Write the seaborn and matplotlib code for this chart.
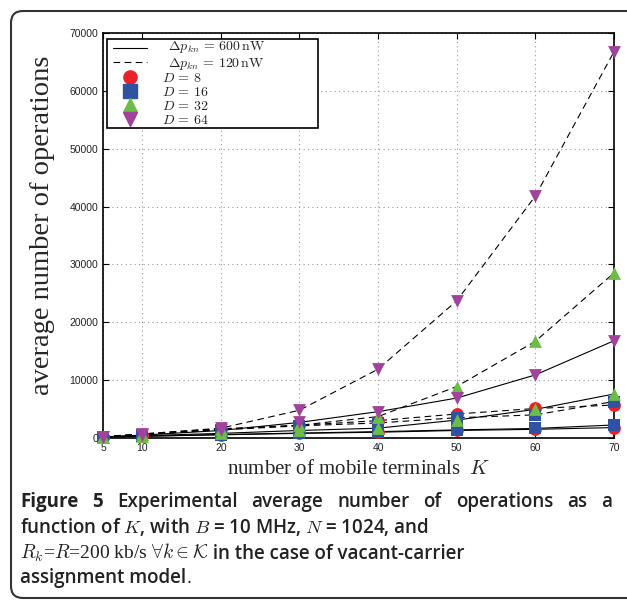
import matplotlib
matplotlib.use("Agg")
import matplotlib.pyplot as plt
import matplotlib.patches as mpatches
from matplotlib.lines import Line2D
import pandas as pd
import seaborn as sns

# number of mobile terminals K
terminals = [5, 10, 20, 30, 40, 50, 60, 70]
subcarrier_groups = [8, 16, 32, 64]

# average number of operations, Delta p = 600 nW (solid)
ops_600 = {
    8: [150, 300, 550, 800, 1000, 1300, 1500, 1800],
    16: [150, 300, 600, 850, 1100, 1400, 1650, 2250],
    32: [200, 400, 800, 1300, 1700, 3100, 4950, 7600],
    64: [200, 500, 1300, 2700, 4550, 6900, 10900, 16800],
}
# average number of operations, Delta p = 120 nW (dashed)
ops_120 = {
    8: [200, 600, 1500, 2200, 3000, 4150, 5100, 5700],
    16: [200, 600, 1400, 2100, 2600, 3500, 4000, 6300],
    32: [200, 700, 1600, 2200, 3700, 8900, 16700, 28500],
    64: [250, 700, 1700, 4800, 11900, 23700, 41800, 66700],
}

x_ticks = [5, 10, 20, 30, 40, 50, 60, 70]
y_ticks = [0, 10000, 20000, 30000, 40000, 50000, 60000, 70000]

legend_labels = [r"$\overline{\Delta p}_{kn}\,=\,600\,\mathrm{nW}$",
                 r"$\Delta p_{kn}\,=\,120\,\mathrm{nW}$",
                 r"$D\,=\,8$", r"$D\,=\,16$", r"$D\,=\,32$", r"$D\,=\,64$"]

colors = {8: "#ec2027", 16: "#2f52a3", 32: "#6cbd45", 64: "#a2439b"}
markers = {8: "o", 16: "s", 32: "^", 64: "v"}
dash = (0, (6, 4))

rows = []
for power, table in (("600", ops_600), ("120", ops_120)):
    for d in subcarrier_groups:
        for k, v in zip(terminals, table[d]):
            rows.append({"K": k, "ops": v, "D": d, "power": power})
df = pd.DataFrame(rows)

sns.set_theme(style="ticks")
plt.rcParams["font.family"] = ["Liberation Sans", "DejaVu Sans"]
plt.rcParams["mathtext.fontset"] = "cm"

fig = plt.figure(figsize=(6.27, 6.0), dpi=100)
ax = fig.add_axes([0.1643, 0.27, 0.8147, 0.675])

# black curves
for power, ls in (("600", "-"), ("120", dash)):
    for d in subcarrier_groups:
        sub = df[(df.power == power) & (df.D == d)]
        sns.lineplot(data=sub, x="K", y="ops", color="black", lw=0.8,
                     linestyle=ls, estimator=None, legend=False, ax=ax)

# colored markers on top
for d in subcarrier_groups:
    sub = df[df.D == d]
    sns.scatterplot(data=sub, x="K", y="ops", marker=markers[d],
                    color=colors[d], s=85, linewidth=0, legend=False,
                    zorder=3, ax=ax, clip_on=False)

ax.set_xlim(5, 70)
ax.set_ylim(0, 70000)
ax.set_xticks(x_ticks)
ax.set_yticks(y_ticks)
ax.set_yticklabels(["0"] + [str(v) for v in y_ticks[1:]])
ax.tick_params(direction="in", length=4, width=0.8, labelsize=7.5,
               top=True, right=True, colors="black", labelcolor="#222222")
ax.grid(True, linestyle=(0, (1, 3)), color="#999999", lw=0.8)
for s in ax.spines.values():
    s.set_color("black")
    s.set_linewidth(1.2)

ax.set_xlabel(r"number of mobile terminals  $K$", family="Liberation Serif",
              fontsize=15, labelpad=5)
ax.set_ylabel("average number of operations", family="Liberation Serif",
              fontsize=20.5)
ax.yaxis.set_label_coords(-0.094, 0.526)

# legend box drawn by hand (MATLAB style, wider than its text)
H = 600
box = mpatches.Rectangle((107, H - 128), 211, 89, transform=None,
                         facecolor="white", edgecolor="black", lw=1.2,
                         zorder=5)
fig.patches.append(box)
handle_y = [48, 62, 77, 91, 105, 119]
text_base = [52, 67, 82, 96, 110, 124]
for i, lab in enumerate(legend_labels):
    yy = H - handle_y[i]
    if i < 2:
        fig.lines.append(Line2D([113, 147], [yy, yy], transform=None,
                                color="black", lw=0.8,
                                linestyle="-" if i == 0 else dash, zorder=6))
        tx = 168
    else:
        d = subcarrier_groups[i - 2]
        fig.lines.append(Line2D([130], [yy], transform=None, marker=markers[d],
                                color=colors[d], markersize=9.5,
                                linestyle="none", zorder=6))
        tx = 162
    fig.text(tx, H - text_base[i], lab, transform=None, ha="left",
             va="baseline", fontsize=10, zorder=7)

# page frame
frame = mpatches.FancyBboxPatch((11, 2), 700, 587,
                                boxstyle="round,pad=0,rounding_size=12",
                                transform=None, fill=False,
                                edgecolor="#333333", lw=1.5)
fig.patches.append(frame)

# caption
cap_font = ["Open Sans", "DejaVu Sans"]
fs = 13.5
ink = "#222222"
fig.canvas.draw()
r = fig.canvas.get_renderer()


def put(x, y, s, **kw):
    t = fig.text(x, y, s, transform=None, ha="left", va="baseline", **kw)
    return x + t.get_window_extent(r).width


def justify(x0, x1, y, words, **kw):
    widths = []
    for w, wt in words:
        t = fig.text(0, 0, w, transform=None, weight=wt, **kw)
        widths.append(t.get_window_extent(r).width)
        t.remove()
    gap = (x1 - x0 - sum(widths)) / max(len(words) - 1, 1)
    x = x0
    for (w, wt), wd in zip(words, widths):
        put(x, y, w, weight=wt, **kw)
        x += wd + gap


cap_kw = dict(family=cap_font, fontsize=fs, color=ink)
words1 = [("Figure", "bold"), ("5", "bold")] + [
    (w, "semibold") for w in "Experimental average number of operations as a".split()]
justify(20, 612, H - 507, words1, **cap_kw)

put(20, H - 533, "function of $K$, with $B$ = 10 MHz, $N$ = 1024, and",
    weight="semibold", **cap_kw)

x = put(20, H - 559, r"$R_k$=$R$=200 kb/s $\forall k\in\mathcal{K}$",
        family="Liberation Serif", fontsize=14, color=ink)
put(x, H - 559, " in the case of vacant-carrier", weight="semibold", **cap_kw)

x = put(20, H - 583, "assignment model", weight="semibold", **cap_kw)
put(x, H - 583, ".", **cap_kw)

fig.savefig("out.png", dpi=100)
